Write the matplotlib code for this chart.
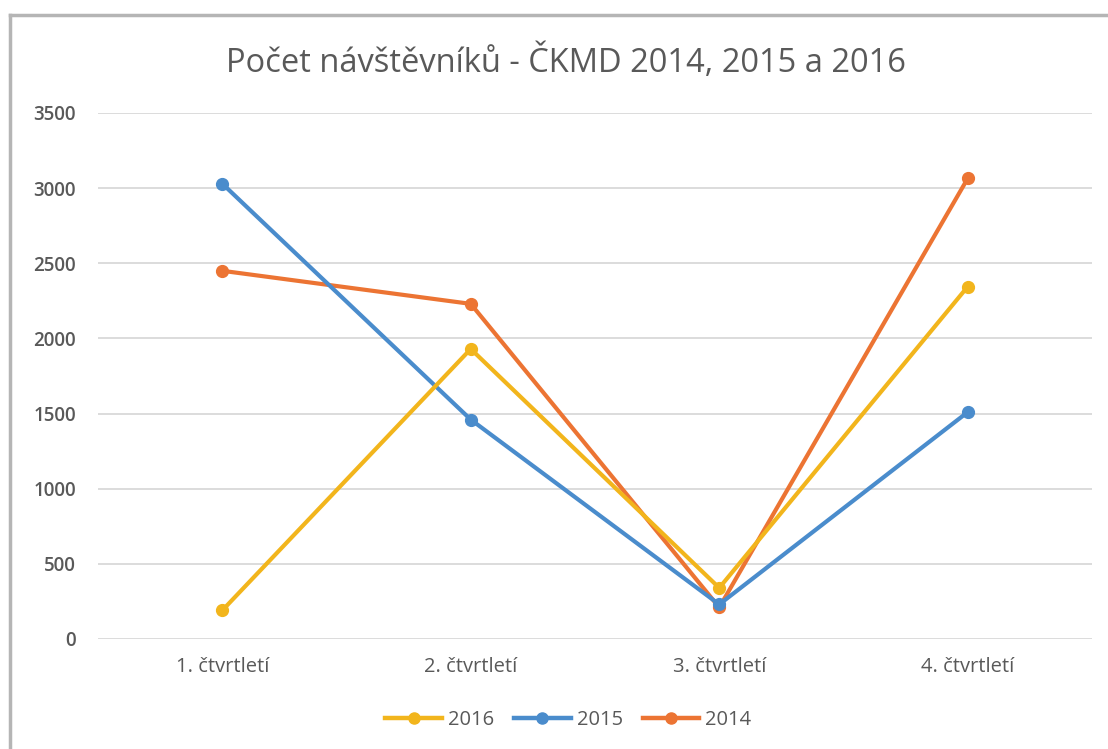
import numpy as np
import matplotlib.pyplot as plt
from matplotlib.lines import Line2D

# data
quarters = ['1. čtvrtletí', '2. čtvrtletí', '3. čtvrtletí', '4. čtvrtletí']
v2016 = [190, 1930, 340, 2345]
v2015 = [3030, 1460, 230, 1510]
v2014 = [2450, 2230, 210, 3065]
yticks = [0, 500, 1000, 1500, 2000, 2500, 3000, 3500]

plt.rcParams['font.family'] = ['Open Sans', 'DejaVu Sans']

fig = plt.figure(figsize=(11.08, 7.49), dpi=100)
ax = fig.add_axes([98 / 1108, 1 - 639 / 749, (1092 - 98) / 1108, (639 - 113) / 749])

x = np.arange(len(quarters))
series = [('2016', v2016, '#f2b51c'), ('2015', v2015, '#4a8ccc'), ('2014', v2014, '#ec7433')]
# draw 2014 on top, as in the reference
for name, vals, col in series[::-1]:
    ax.plot(x, vals, color=col, lw=3.0, marker='o', ms=8.5, label=name,
            solid_capstyle='round')

ax.set_xlim(-0.5, 3.5)
ax.set_ylim(0, 3500)
ax.set_yticks(yticks)
ax.set_xticks(x)
ax.set_xticklabels(quarters)
ax.grid(axis='y', color='#d9d9d9', lw=1.3)
ax.set_axisbelow(True)
for s in ax.spines.values():
    s.set_visible(False)
ax.tick_params(length=0, colors='#595959')
ax.tick_params(axis='y', pad=16, labelsize=13.5)
ax.tick_params(axis='x', pad=13, labelsize=14.5)
for t in ax.get_yticklabels():
    t.set_fontweight('semibold')

fig.text(0.511, 1 - 62 / 749, 'Počet návštěvníků - ČKMD 2014, 2015 a 2016',
         ha='center', va='center', fontsize=23.5, color='#595959')

handles = [Line2D([], [], color=c, lw=3.2, marker='o', ms=8) for _, _, c in series]
fig.legend(handles, [n for n, _, _ in series], loc='center',
           bbox_to_anchor=(0.513, 1 - 720 / 749), ncol=3, frameon=False,
           fontsize=14.5, labelcolor='#595959', handlelength=2.8,
           handletextpad=0.3, columnspacing=1.0)

# chart frame (left and top edges visible)
fig.add_artist(Line2D([10 / 1108, 10 / 1108], [0, 1 - 15 / 749], color='#b5b5b5', lw=2.5))
fig.add_artist(Line2D([10 / 1108, 1], [1 - 15 / 749, 1 - 15 / 749], color='#b5b5b5', lw=2.5))

fig.savefig('out.png', dpi=100, facecolor='white')
